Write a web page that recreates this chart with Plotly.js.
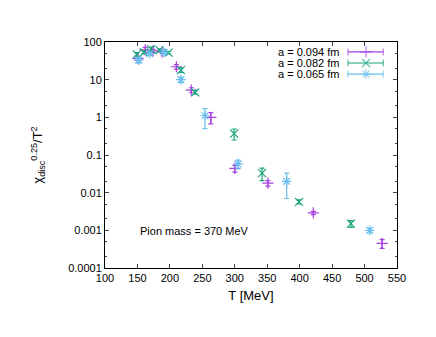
<!DOCTYPE html>
<html><head><meta charset="utf-8">
<script src="https://cdn.plot.ly/plotly-3.0.1.min.js"></script>
<style>html,body{margin:0;padding:0;background:#fff}#chart{width:436px;height:337px}</style>
</head><body><div id="chart"></div>
<script>
// a = 0.094 fm
const T_094 = [151, 162, 174, 188, 210, 233, 263, 300, 351, 421, 527];
const chi_094 = [36, 62, 58, 55, 22, 5.3, 1.0, 0.044, 0.018, 0.0029, 0.00045];
const err_094 = [4, 10, 6, 5, 3, 0.8, 0.33, 0.009, 0.003, 0.0003, 0.00012];
// a = 0.082 fm
const T_082 = [149, 160, 171, 184, 198, 217, 239, 299, 342, 399, 479];
const chi_082 = [47, 53, 65, 61, 52, 18, 4.6, 0.37, 0.033, 0.0057, 0.0015];
const err_082 = [5, 5, 8, 5, 4, 2.5, 0.5, 0.12, 0.012, 0.0007, 0.0003];
// a = 0.065 fm
const T_065 = [152, 169, 191, 217, 254, 305, 380, 508];
const chi_065 = [33, 49, 53, 10, 1.1, 0.058, 0.02, 0.001];
const err_065 = [5, 4, 4, 1.5, 0.6, 0.015, 0.013, 0.00015];

const labels = ['a = 0.094 fm', 'a = 0.082 fm', 'a = 0.065 fm'];
const colors = ['#a940e0', '#1aa37a', '#6bbfee'];
const symbols = ['cross-thin-open', 'x-thin-open', 'asterisk-open'];
const yTicks = [0.0001, 0.001, 0.01, 0.1, 1, 10, 100];
const yTickText = ['0.0001', '0.001', '0.01', '0.1', '1', '10', '100'];

const series = [[T_094, chi_094, err_094], [T_082, chi_082, err_082], [T_065, chi_065, err_065]];
const traces = series.map((s, i) => ({
  x: s[0], y: s[1], type: 'scatter', mode: 'markers', name: labels[i], showlegend: false,
  marker: {symbol: symbols[i], size: 8, color: colors[i], line: {color: colors[i], width: 1.2}},
  error_y: {type: 'data', array: s[2], visible: true, color: colors[i], thickness: 1.2, width: 2.5}
}));

// custom gnuplot-style key (text left, sample right)
const keyRows = [0.956, 0.907, 0.858];
const annotations = [];
labels.forEach((lab, i) => {
  traces.push({
    x: [0.832, 0.894, 0.953], y: [keyRows[i], keyRows[i], keyRows[i]],
    xaxis: 'x2', yaxis: 'y2', type: 'scatter', mode: 'lines+markers', showlegend: false, hoverinfo: 'skip',
    line: {color: colors[i], width: 1.2},
    marker: {symbol: ['line-ns-open', symbols[i], 'line-ns-open'], size: [5, 8, 5], color: colors[i], line: {color: colors[i], width: 1.2}}
  });
  annotations.push({xref: 'paper', yref: 'paper', x: 0.807, y: keyRows[i], xanchor: 'right', yanchor: 'middle',
    text: lab, showarrow: false, font: {size: 11, color: '#000'}});
});
annotations.push({xref: 'paper', yref: 'paper', x: 0.113, y: 0.163, xanchor: 'left', yanchor: 'middle',
  text: 'Pion mass = 370 MeV', showarrow: false, font: {size: 11, color: '#000'}});

const layout = {
  width: 436, height: 337,
  margin: {l: 105, r: 39, t: 42, b: 69},
  paper_bgcolor: '#fff', plot_bgcolor: '#fff',
  font: {family: 'Liberation Sans, Arial, sans-serif', size: 11, color: '#000'},
  showlegend: false,
  xaxis: {range: [100, 550], dtick: 50, tick0: 100, ticks: 'inside', ticklen: 4, mirror: 'ticks',
    showline: true, linecolor: '#000', linewidth: 1, showgrid: false, zeroline: false,
    title: {text: 'T [MeV]', standoff: 7}, tickfont: {size: 11}},
  yaxis: {type: 'log', range: [-4, 2], tickvals: yTicks, ticktext: yTickText, ticks: 'inside', ticklen: 4,
    mirror: 'ticks', showline: true, linecolor: '#000', linewidth: 1, showgrid: false, zeroline: false,
    minor: {dtick: 'D2', ticks: 'inside', ticklen: 2, showgrid: false},
    title: {text: 'χ<sub>disc</sub><sup>0.25</sup>/T<sup>2</sup>', standoff: 22}, tickfont: {size: 11}},
  xaxis2: {range: [0, 1], overlaying: 'x', visible: false, fixedrange: true},
  yaxis2: {range: [0, 1], overlaying: 'y', visible: false, fixedrange: true},
  annotations: annotations
};
Plotly.newPlot('chart', traces, layout, {displayModeBar: false, staticPlot: true});
</script></body></html>
